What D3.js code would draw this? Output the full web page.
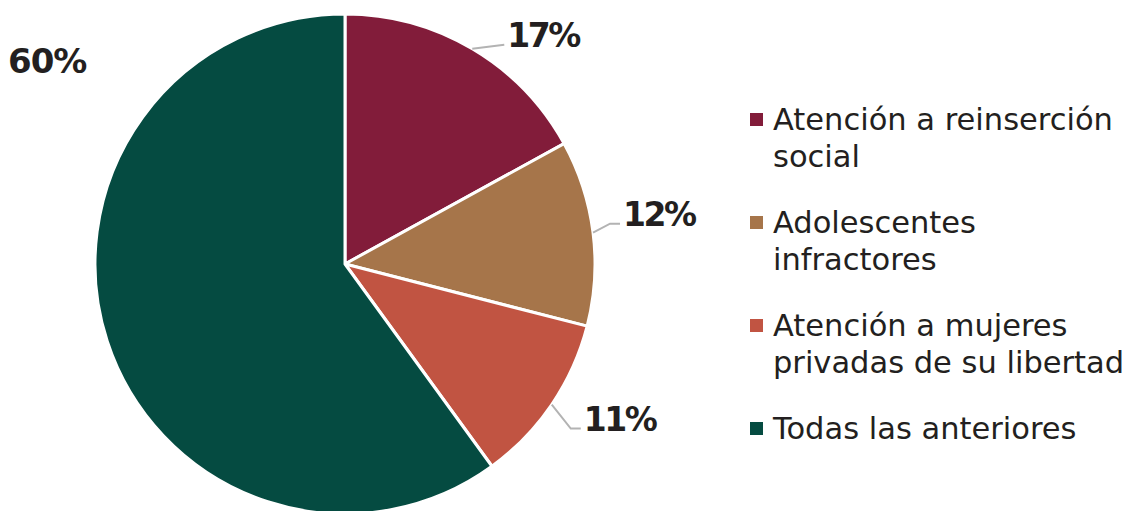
<!DOCTYPE html>
<html><head><meta charset="utf-8">
<script src="https://cdn.jsdelivr.net/npm/d3@7"></script>
<style>body{margin:0;background:#fff;} svg{display:block;}</style>
</head><body>
<svg id="c" width="1128" height="511"></svg>
<script>
const categories = ["Atención a reinserción social", "Adolescentes infractores", "Atención a mujeres privadas de su libertad", "Todas las anteriores"];
const legendLines = [["Atención a reinserción", "social"], ["Adolescentes", "infractores"], ["Atención a mujeres", "privadas de su libertad"], ["Todas las anteriores"]];
const values = [17, 12, 11, 60];
const colors = ["#821c3a", "#a6754a", "#c15442", "#054b41"];

const W = 1128, H = 511;
const cx = 345, cy = 264, R = 250;
const svg = d3.select("#c");
const fontLegend = "'DejaVu Sans', sans-serif";
const fontLabel = "'DejaVu Sans', sans-serif";

const pie = d3.pie().sort(null).value(d => d)(values);
const arc = d3.arc().innerRadius(0).outerRadius(R);
const g = svg.append("g").attr("transform", `translate(${cx},${cy})`);
g.selectAll("path").data(pie).join("path")
  .attr("d", arc).attr("fill", (d, i) => colors[i])
  .attr("stroke", "#fff").attr("stroke-width", 3).attr("stroke-linejoin", "round");

// labels
const labelCfg = [
  {leader: true, dx: 32, dy: -4, hx: 0},
  {leader: true, dx: 17, dy: -9, hx: 10},
  {leader: true, dx: 19, dy: 24, hx: 10},
  {leader: false}
];
pie.forEach((d, i) => {
  const a = (d.startAngle + d.endAngle) / 2;
  const px = Math.sin(a) * R, py = -Math.cos(a) * R;
  const cfg = labelCfg[i];
  if (cfg.leader) {
    const ex = px + cfg.dx, ey = py + cfg.dy;
    const pts = [[px, py], [ex, ey]];
    if (cfg.hx) pts.push([ex + cfg.hx, ey]);
    g.append("path").attr("d", d3.line()(pts))
      .attr("fill", "none").attr("stroke", "#b3b3b3").attr("stroke-width", 2);
    const last = pts[pts.length - 1];
    g.append("text").attr("x", last[0] + 3).attr("y", ey + 2)
      .attr("font-family", fontLabel).attr("font-weight", "bold")
      .attr("font-size", 33).attr("fill", "#231f20").attr("letter-spacing", -2.5)
      .text(values[i] + "%");
  } else {
    svg.append("text").attr("x", 8).attr("y", 73)
      .attr("font-family", fontLabel).attr("font-weight", "bold")
      .attr("font-size", 34).attr("fill", "#231f20").attr("letter-spacing", -1)
      .text(values[i] + "%");
  }
});

// legend
const lg = svg.append("g");
let y = 130;
legendLines.forEach((lines, i) => {
  lg.append("rect").attr("x", 750).attr("y", y - 17).attr("width", 13).attr("height", 13).attr("fill", colors[i]);
  lines.forEach((t, j) => {
    lg.append("text").attr("x", 773).attr("y", y + j * 37)
      .attr("font-family", fontLegend).attr("font-size", 30.5).attr("fill", "#231f20")
      .text(t);
  });
  y += lines.length * 37 + 29;
});
</script>
</body></html>
